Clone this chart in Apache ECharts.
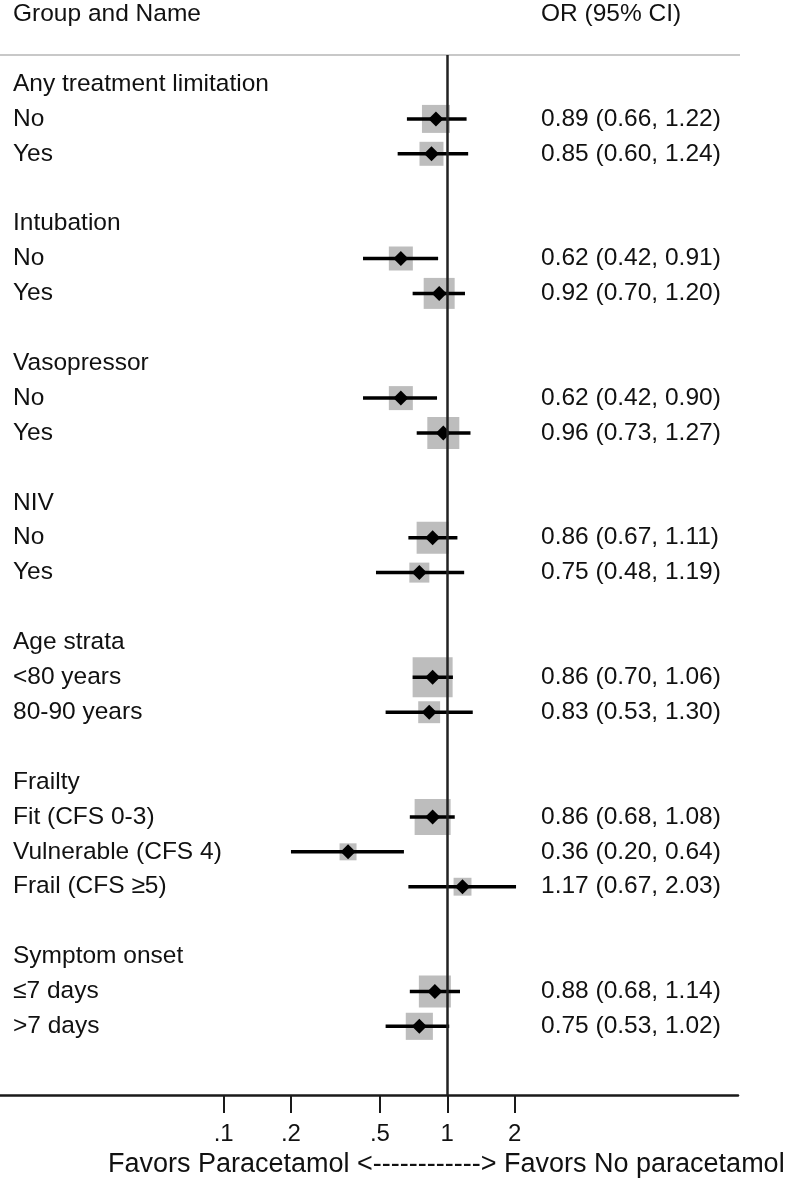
<!DOCTYPE html>
<html>
<head>
<meta charset="utf-8">
<script src="https://cdn.jsdelivr.net/npm/echarts@6/dist/echarts.min.js"></script>
<style>
html,body{margin:0;padding:0;background:#fff;}
#chart{width:786px;height:1186px;}
</style>
</head>
<body>
<div id="chart"></div>
<script>
// ---- data ----
const groupNames = ['Any treatment limitation','Intubation','Vasopressor','NIV','Age strata','Frailty','Symptom onset'];
const rowNames = ['No','Yes','No','Yes','No','Yes','No','Yes','<80 years','80-90 years','Fit (CFS 0-3)','Vulnerable (CFS 4)','Frail (CFS \u22655)','\u22647 days','>7 days'];
const rowGroup = [0,0,1,1,2,2,3,3,4,4,5,5,5,6,6];
const orValues = [0.89,0.85,0.62,0.92,0.62,0.96,0.86,0.75,0.86,0.83,0.86,0.36,1.17,0.88,0.75];
const ciLower  = [0.66,0.60,0.42,0.70,0.42,0.73,0.67,0.48,0.70,0.53,0.68,0.20,0.67,0.68,0.53];
const ciUpper  = [1.22,1.24,0.91,1.20,0.90,1.27,1.11,1.19,1.06,1.30,1.08,0.64,2.03,1.14,1.02];
const weights  = [49,36,36,60,36,64,64,25,100,30,81,18,20,64,46];
const xTicks = [0.1,0.2,0.5,1,2];
const xTickLabels = ['.1','.2','.5','1','2'];
const headerLeft = 'Group and Name';
const headerRight = 'OR (95% CI)';
const axisTitle = 'Favors Paracetamol <------------> Favors No paracetamol';

// ---- layout rows ----
const labelRows = [];
const estRows = [];
let slot = 0;
groupNames.forEach((g, gi) => {
  labelRows.push([0, slot, g]);
  slot++;
  rowNames.forEach((n, i) => {
    if (rowGroup[i] !== gi) return;
    labelRows.push([0, slot, n]);
    const txt = orValues[i].toFixed(2) + ' (' + ciLower[i].toFixed(2) + ', ' + ciUpper[i].toFixed(2) + ')';
    estRows.push([Math.log10(orValues[i]), slot, Math.log10(ciLower[i]), Math.log10(ciUpper[i]), weights[i], txt]);
    slot++;
  });
  slot++;
});

const FONT = "'Liberation Sans', Arial, Helvetica, sans-serif";
const TXT = '#111';
const FS = 24.5;
const tickVals = xTicks.map(v => Math.log10(v));

const chart = echarts.init(document.getElementById('chart'));
chart.setOption({
  backgroundColor: '#fff',
  animation: false,
  grid: {left: 0, right: 48, top: 55, bottom: 91},
  xAxis: {
    type: 'value', min: -2, max: 1.3,
    splitLine: {show: false},
    axisLine: {show: true, onZero: false, lineStyle: {color: '#1a1a1a', width: 2.5}},
    axisTick: {show: true, customValues: tickVals, length: 18, lineStyle: {color: '#1a1a1a', width: 2}},
    axisLabel: {
      customValues: tickVals, margin: 27, fontSize: 24, color: TXT, fontFamily: FONT,
      formatter: v => {
        const i = tickVals.findIndex(t => Math.abs(t - v) < 1e-6);
        return i >= 0 ? xTickLabels[i] : '';
      }
    }
  },
  yAxis: {type: 'value', inverse: true, min: -0.831, max: 28.968, show: false},
  graphic: [
    {type: 'text', left: 13, top: 2, style: {text: headerLeft, fontSize: FS, fill: TXT, fontFamily: FONT}},
    {type: 'text', left: 541, top: 2, style: {text: headerRight, fontSize: FS, fill: TXT, fontFamily: FONT}},
    {type: 'line', shape: {x1: 0, y1: 55, x2: 740, y2: 55}, style: {stroke: '#c8c8c8', lineWidth: 2}},
    {type: 'text', left: 108, top: 1151, style: {text: axisTitle, fontSize: 27, fill: TXT, fontFamily: FONT}}
  ],
  series: [
    {
      type: 'custom', z: 1, clip: false,
      data: estRows,
      renderItem: (params, api) => {
        const c = api.coord([api.value(0), api.value(1)]);
        const side = 40 * Math.sqrt(api.value(4) / 100);
        return {type: 'rect', shape: {x: c[0] - side/2, y: c[1] - side/2, width: side, height: side}, style: {fill: '#bdbdbd'}};
      }
    },
    {
      type: 'line', z: 2, data: [], silent: true,
      markLine: {
        silent: true, symbol: 'none', label: {show: false},
        lineStyle: {color: '#222', width: 2.5, type: 'solid'},
        data: [{xAxis: 0}]
      }
    },
    {
      type: 'custom', z: 3, clip: false,
      data: estRows,
      renderItem: (params, api) => {
        const y = api.value(1);
        const c = api.coord([api.value(0), y]);
        const lo = api.coord([api.value(2), y]);
        const hi = api.coord([api.value(3), y]);
        const d = 7.5;
        return {type: 'group', children: [
          {type: 'line', shape: {x1: lo[0], y1: lo[1], x2: hi[0], y2: hi[1]}, style: {stroke: '#000', lineWidth: 3.5}},
          {type: 'polygon', shape: {points: [[c[0], c[1]-d],[c[0]+d, c[1]],[c[0], c[1]+d],[c[0]-d, c[1]]]}, style: {fill: '#000'}},
          {type: 'text', x: 541, y: c[1], style: {text: estRows[params.dataIndex][5], fontSize: FS, fill: TXT, fontFamily: FONT, verticalAlign: 'middle', align: 'left'}}
        ]};
      }
    },
    {
      type: 'custom', z: 3, clip: false,
      data: labelRows,
      renderItem: (params, api) => {
        const c = api.coord([0, api.value(1)]);
        return {type: 'text', x: 13, y: c[1], style: {text: labelRows[params.dataIndex][2], fontSize: FS, fill: TXT, fontFamily: FONT, verticalAlign: 'middle', align: 'left'}};
      }
    }
  ]
});
</script>
</body>
</html>
